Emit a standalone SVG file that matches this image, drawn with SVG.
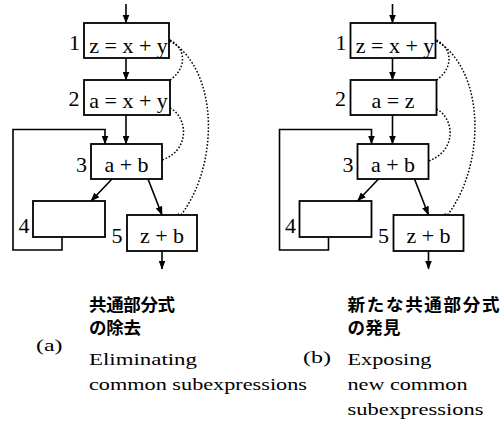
<svg xmlns="http://www.w3.org/2000/svg" width="502" height="424" viewBox="0 0 502 424">
<defs>
<style>
.box{fill:#fff;stroke:#000;stroke-width:1.8}
.edge{fill:none;stroke:#000;stroke-width:1.6;marker-end:url(#ah)}
.dot{fill:none;stroke:#000;stroke-width:1.5;stroke-dasharray:1.6 1.8;marker-end:url(#dh)}
.t{font-family:'Liberation Serif','Times New Roman',serif;font-size:22px;fill:#000;text-anchor:middle}
.cap{font-family:'Liberation Serif','Times New Roman',serif;font-size:17px;fill:#000}
.jp{font-family:'Noto Sans CJK JP','Noto Sans CJK SC',sans-serif;font-size:17.5px;font-weight:bold;fill:#000}
</style>
<marker id="ah" markerWidth="9" markerHeight="7" refX="8.5" refY="3.5" orient="auto" markerUnits="userSpaceOnUse"><path d="M0,0 L9,3.5 L0,7 z" fill="#000"/></marker>
<marker id="dh" markerWidth="8" markerHeight="8" refX="6.5" refY="3.5" orient="auto" markerUnits="userSpaceOnUse"><path d="M0,0.5 L6.5,3.5 L0,6.5" fill="none" stroke="#000" stroke-width="1.3" stroke-dasharray="1.5 1"/></marker>
</defs>
<rect width="502" height="424" fill="#fff"/>

<!-- panel (a) -->
<g id="panel-a">
<g id="a-connectors">
<path class="edge" d="M126,4 V23"/>
<path class="edge" d="M126,58 V80"/>
<path class="edge" d="M126,115 V144"/>
<path class="edge" d="M112,179 L91,201"/>
<path class="edge" d="M148,179 L162,215"/>
<path class="edge" d="M162,251 V269"/>
<path class="edge" d="M62,237 V250 H13 V129.5 H105 V144"/>
<path class="dot" d="M170,40 C192,52 184,80 154,87"/>
<path class="dot" d="M170,41 C220,70 220,170 177,220"/>
<path class="dot" d="M170,108 C190,118 192,160 147,163"/>
</g>
<g id="a-n1"><rect class="box" x="84" y="23" width="85" height="35"/><text class="t" x="74.5" y="50">1</text><text class="t" x="128.5" y="52.5">z = x + y</text></g>
<g id="a-n2"><rect class="box" x="84" y="80" width="86" height="35"/><text class="t" x="74" y="105.5">2</text><text class="t" x="128.5" y="108">a = x + y</text></g>
<g id="a-n3"><rect class="box" x="91" y="144" width="71" height="35"/><text class="t" x="81.5" y="172">3</text><text class="t" x="126.5" y="172">a + b</text></g>
<g id="a-n4"><rect class="box" x="33" y="201" width="72" height="36"/><text class="t" x="24" y="233">4</text></g>
<g id="a-n5"><rect class="box" x="127" y="215" width="70" height="36"/><text class="t" x="117" y="243">5</text><text class="t" x="162" y="243">z + b</text></g>
</g>

<!-- panel (b) -->
<g id="panel-b" transform="translate(266.5,0)">
<g id="b-connectors">
<path class="edge" d="M126,4 V23"/>
<path class="edge" d="M126,58 V80"/>
<path class="edge" d="M126,115 V144"/>
<path class="edge" d="M112,179 L91,201"/>
<path class="edge" d="M148,179 L162,215"/>
<path class="edge" d="M162,251 V269"/>
<path class="edge" d="M62,237 V250 H13 V129.5 H105 V144"/>
<path class="dot" d="M170,40 C192,52 184,80 154,87"/>
<path class="dot" d="M170,41 C220,70 220,170 177,220"/>
<path class="dot" d="M170,109 C190,119 192,160 148,164"/>
</g>
<g id="b-n1"><rect class="box" x="84" y="23" width="85" height="35"/><text class="t" x="74.5" y="50">1</text><text class="t" x="128.5" y="52.5">z = x + y</text></g>
<g id="b-n2"><rect class="box" x="84" y="80" width="86" height="35"/><text class="t" x="74" y="105.5">2</text><text class="t" x="126.5" y="108">a = z</text></g>
<g id="b-n3"><rect class="box" x="91" y="144" width="71" height="35"/><text class="t" x="81.5" y="172">3</text><text class="t" x="126.5" y="172">a + b</text></g>
<g id="b-n4"><rect class="box" x="33" y="201" width="72" height="36"/><text class="t" x="24" y="233">4</text></g>
<g id="b-n5"><rect class="box" x="127" y="215" width="70" height="36"/><text class="t" x="117" y="243">5</text><text class="t" x="162" y="243">z + b</text></g>
</g>

<!-- captions -->
<g id="caption-a">
<text class="jp" x="89" y="311" textLength="86" lengthAdjust="spacing">共通部分式</text>
<text class="jp" x="89" y="334" textLength="52" lengthAdjust="spacing">の除去</text>
<text class="cap" x="36" y="351" textLength="26.5" lengthAdjust="spacingAndGlyphs">(a)</text>
<text class="cap" x="89" y="365" textLength="108" lengthAdjust="spacingAndGlyphs">Eliminating</text>
<text class="cap" x="89" y="390" textLength="218" lengthAdjust="spacingAndGlyphs">common subexpressions</text>
</g>
<g id="caption-b">
<text class="jp" x="347.5" y="311" textLength="152" lengthAdjust="spacing">新たな共通部分式</text>
<text class="jp" x="347.5" y="334" textLength="53" lengthAdjust="spacing">の発見</text>
<text class="cap" x="303" y="363" textLength="28" lengthAdjust="spacingAndGlyphs">(b)</text>
<text class="cap" x="347.5" y="365" textLength="84" lengthAdjust="spacingAndGlyphs">Exposing</text>
<text class="cap" x="347.5" y="390" textLength="120" lengthAdjust="spacingAndGlyphs">new common</text>
<text class="cap" x="347.5" y="415" textLength="136" lengthAdjust="spacingAndGlyphs">subexpressions</text>
</g>
</svg>
